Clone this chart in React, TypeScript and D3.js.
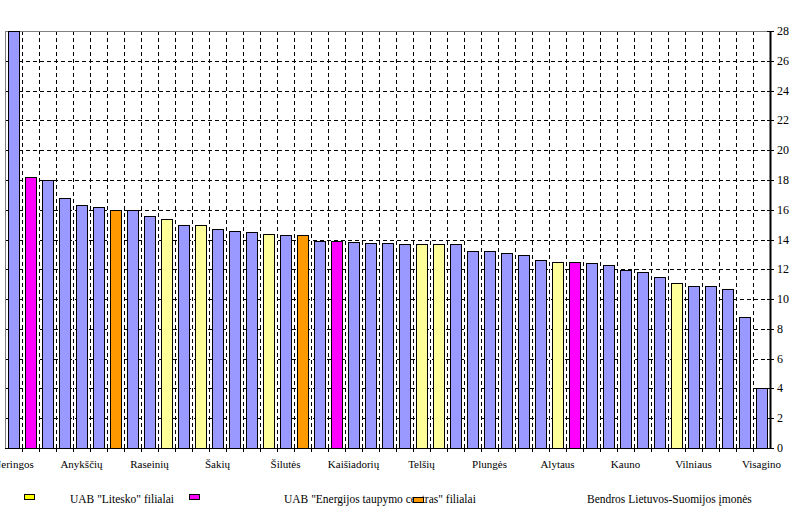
import React from "react";
import * as d3 from "d3";

const categories: string[] = [
  "Neringos", "", "", "", "Anykščių", "", "", "", "Raseinių", "", "", "", "Šakių", "", "", "",
  "Šilutės", "", "", "", "Kaišiadorių", "", "", "", "Telšių", "", "", "", "Plungės", "", "", "",
  "Alytaus", "", "", "", "Kauno", "", "", "", "Vilniaus", "", "", "", "Visagino",
];

const values: number[] = [
  28, 18.2, 18.0, 16.8, 16.3, 16.2, 16.0, 16.0, 15.6, 15.4, 15.0, 15.0, 14.7, 14.6, 14.5, 14.4,
  14.3, 14.3, 13.9, 13.9, 13.8, 13.75, 13.75, 13.7, 13.7, 13.7, 13.7, 13.2, 13.2, 13.1, 12.95, 12.6,
  12.5, 12.5, 12.4, 12.3, 11.95, 11.8, 11.5, 11.1, 10.9, 10.9, 10.7, 8.8, 4.0,
];

// group per bar: O = other, L = Litesko, E = Energijos taupymo centras, S = Bendros LT-FI
const groups: string[] = [
  "O", "E", "O", "O", "O", "O", "S", "O", "O", "L", "O", "L", "O", "O", "O", "L",
  "O", "S", "O", "E", "O", "O", "O", "O", "L", "L", "O", "O", "O", "O", "O", "O",
  "L", "E", "O", "O", "O", "O", "O", "L", "O", "O", "O", "O", "O",
];

const barColors: Record<string, string> = { O: "#9999FF", L: "#FFFF99", E: "#FF00FF", S: "#FF9900" };

const yTicks: number[] = [0, 2, 4, 6, 8, 10, 12, 14, 16, 18, 20, 22, 24, 26, 28];

const legendLabels: string[] = [
  'UAB "Litesko" filialai',
  'UAB "Energijos taupymo centras" filialai',
  "Bendros Lietuvos-Suomijos įmonės",
];
const legendColors: string[] = ["#FFFF00", "#FF00FF", "#FF9900"];

const W = 796;
const H = 516;
const L = 5;
const R = 770;
const T = 31;
const B = 448;
const FONT = "Liberation Serif, DejaVu Serif, Times New Roman, serif";

export default function App() {
  const idx = categories.map((_, i) => i);
  const x = d3.scaleBand<number>().domain(idx).range([L, R]).paddingInner(0.35).paddingOuter(0.175);
  const y = d3.scaleLinear().domain([0, 28]).range([B, T]);
  const step = x.step();
  const boundaries = d3.range(1, categories.length).map((i) => L + step * i);

  const swatches = [
    { x: 24, y: 494 },
    { x: 189, y: 494 },
    { x: 413, y: 497 },
  ];
  const texts = [
    { x: 70, y: 503 },
    { x: 284, y: 503 },
    { x: 587, y: 503 },
  ];

  return (
    <div style={{ position: "absolute", left: 0, top: 0 }}>
      <svg width={W} height={H} style={{ display: "block", background: "#fff" }} fontFamily={FONT}>
        <defs>
          <clipPath id="plot">
            <rect x={L} y={T} width={R - L} height={B - T} />
          </clipPath>
        </defs>
        {/* horizontal gridlines */}
        {yTicks.filter((t) => t > 0 && t < 28).map((t) => (
          <line key={"h" + t} x1={L} x2={R} y1={Math.round(y(t)) + 0.5} y2={Math.round(y(t)) + 0.5}
            stroke="#000" strokeDasharray="4,3" strokeWidth={1} />
        ))}
        {/* vertical gridlines */}
        {boundaries.map((bx, i) => (
          <line key={"v" + i} x1={Math.round(bx) + 0.5} x2={Math.round(bx) + 0.5} y1={T} y2={B}
            stroke="#000" strokeDasharray="4,3" strokeWidth={1} />
        ))}
        {/* frame */}
        <line x1={L} x2={R} y1={T + 0.5} y2={T + 0.5} stroke="#808080" strokeWidth={1} />
        <line x1={L + 0.5} x2={L + 0.5} y1={T} y2={B} stroke="#808080" strokeWidth={1} />
        {/* bars */}
        <g clipPath="url(#plot)">
          {values.map((v, i) => (
            <rect key={"b" + i} x={Math.round(x(i)!) + 0.5} y={Math.round(y(v)) + 0.5}
              width={Math.round(x.bandwidth())} height={B - Math.round(y(v))}
              fill={barColors[groups[i]]} stroke="#000" strokeWidth={1} />
          ))}
        </g>
        {/* bottom axis */}
        <line x1={L} x2={R} y1={B + 0.5} y2={B + 0.5} stroke="#000" strokeWidth={1} />
        {boundaries.map((bx, i) => (
          <line key={"bt" + i} x1={Math.round(bx) + 0.5} x2={Math.round(bx) + 0.5} y1={B} y2={B + 4}
            stroke="#000" strokeWidth={1} />
        ))}
        {categories.map((c, i) => c ? (
          <text key={"xl" + i} x={x(i)! + x.bandwidth() / 2} y={468} textAnchor="middle"
            fontSize={11} fontFamily={FONT} fill="#000">
            {c}
          </text>
        ) : null)}
        {/* right axis */}
        <line x1={R + 0.5} x2={R + 0.5} y1={T} y2={B + 1} stroke="#000" strokeWidth={2} />
        {yTicks.map((t) => (
          <g key={"yt" + t}>
            <line x1={R - 3} x2={R + 4} y1={Math.round(y(t)) + 0.5} y2={Math.round(y(t)) + 0.5} stroke="#000" />
            <text x={777} y={y(t) + 4} fontSize={12} fontFamily={FONT} fill="#000">{t}</text>
          </g>
        ))}
        {/* legend */}
        {legendLabels.map((lbl, i) => (
          <rect key={"lg" + i} x={swatches[i].x + 0.5} y={swatches[i].y + 0.5} width={10} height={5}
            fill={legendColors[i]} stroke="#000" strokeWidth={1} />
        ))}
        {legendLabels.map((lbl, i) => (
          <text key={"lt" + i} x={texts[i].x} y={texts[i].y} fontSize={11.5} fontFamily={FONT} fill="#000">{lbl}</text>
        ))}
        {/* orange swatch sits over the second legend text, as in the reference */}
        <rect x={swatches[2].x + 0.5} y={swatches[2].y + 0.5} width={10} height={5}
          fill={legendColors[2]} stroke="#000" strokeWidth={1} />
      </svg>
    </div>
  );
}
